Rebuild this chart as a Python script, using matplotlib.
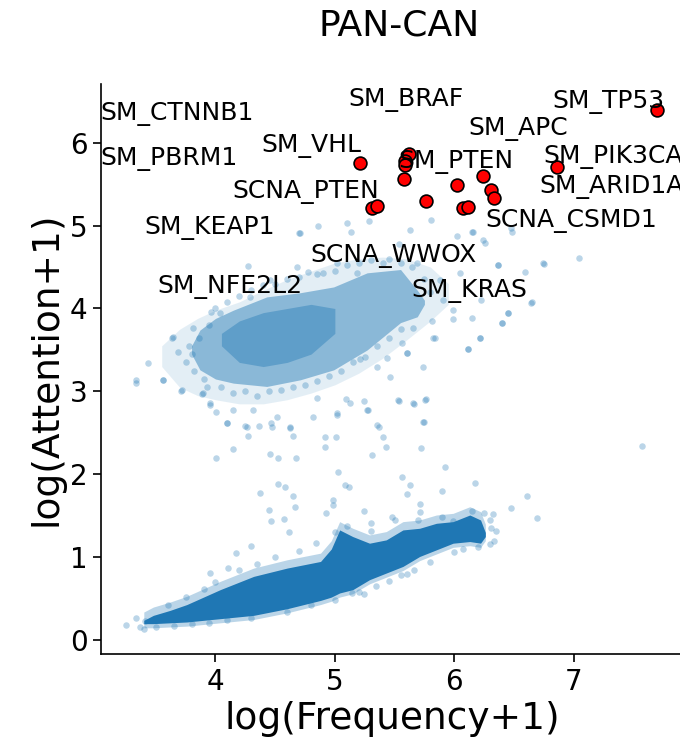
import matplotlib
matplotlib.use('Agg')
import matplotlib.pyplot as plt
import numpy as np

# dense lower band of genes (envelope of the solid core)
band_x = [3.40, 3.48, 3.62, 3.76, 3.90, 4.04, 4.18, 4.32, 4.46, 4.60, 4.74, 4.88,
          4.97, 5.04, 5.15, 5.29, 5.43, 5.57, 5.71, 5.85, 5.99, 6.13, 6.22, 6.26]
band_lo = [0.20, 0.20, 0.21, 0.22, 0.24, 0.26, 0.28, 0.30, 0.34, 0.38, 0.43, 0.48,
           0.52, 0.57, 0.61, 0.73, 0.81, 0.89, 1.01, 1.09, 1.17, 1.19, 1.17, 1.25]
band_hi = [0.24, 0.30, 0.36, 0.43, 0.52, 0.61, 0.69, 0.77, 0.82, 0.87, 0.91, 0.95,
           1.10, 1.33, 1.25, 1.17, 1.21, 1.33, 1.35, 1.41, 1.43, 1.51, 1.45, 1.30]

# upper cluster: outer spread, dense part, darkest core
cloud_x = [3.55, 3.70, 3.85, 4.00, 4.20, 4.40, 4.60, 4.80, 5.00, 5.20, 5.40, 5.60, 5.80, 5.95]
cloud_lo = [3.30, 3.05, 2.95, 2.90, 2.85, 2.85, 2.90, 2.98, 3.08, 3.22, 3.40, 3.62, 3.85, 4.05]
cloud_hi = [3.55, 3.75, 3.88, 3.98, 4.08, 4.22, 4.35, 4.45, 4.55, 4.60, 4.62, 4.60, 4.50, 4.30]

dense_x = [3.80, 3.87, 4.00, 4.15, 4.43, 4.71, 4.99, 5.27, 5.55, 5.69, 5.75]
dense_lo = [3.45, 3.26, 3.15, 3.10, 3.06, 3.14, 3.26, 3.50, 3.83, 3.90, 4.05]
dense_hi = [3.55, 3.74, 3.88, 3.98, 4.14, 4.19, 4.26, 4.43, 4.47, 4.22, 4.10]

core_x = [4.05, 4.20, 4.40, 4.60, 4.80, 5.00]
core_lo = [3.55, 3.35, 3.30, 3.35, 3.45, 3.70]
core_hi = [3.70, 3.85, 3.95, 4.00, 4.05, 4.00]

# scattered genes outside the dense regions
gene_x = [3.333, 3.333, 3.431, 3.557, 3.636, 3.711, 3.887, 3.951, 4.008, 4.093,
          4.247, 4.276, 4.367, 4.461, 4.477, 4.626, 4.647, 4.008, 4.143, 4.455,
          4.523, 4.678, 4.918, 4.918, 5.013, 5.019, 4.849, 5.091, 5.243, 5.271,
          5.366, 5.407, 5.429, 5.312, 5.023, 5.539, 5.659, 5.760, 5.747, 5.722,
          5.558, 5.926, 7.571, 6.116, 6.216, 5.838, 6.400, 6.450, 6.643, 6.226,
          5.992, 5.734, 5.438, 5.606, 5.211, 5.350, 5.565, 5.810,
          4.524, 4.581, 4.370, 4.653, 5.085, 5.120, 5.627, 5.602, 5.899, 6.172,
          6.613, 6.478, 6.695, 6.324, 4.452, 4.663, 4.467, 4.572, 4.616, 4.982,
          4.987, 4.928, 5.243, 5.476, 5.712, 5.709, 5.306, 4.846, 4.297, 4.172,
          3.951, 4.109, 3.251, 3.365, 3.333, 3.406, 5.243, 5.142, 5.552, 5.343,
          5.665, 6.069, 6.305, 5.987,
          3.558, 3.642, 3.688, 3.717, 3.814, 3.898, 3.954, 3.960, 4.038, 4.094,
          4.149, 4.275, 4.289, 4.261, 4.317, 4.456, 4.513, 4.624, 4.708, 4.680,
          4.777, 4.819, 4.903, 5.015, 5.015, 5.126, 5.183, 5.280, 5.350, 5.405,
          5.461, 5.531, 5.601, 5.656, 5.685, 5.740, 5.754, 5.656, 5.824, 5.880,
          5.908, 5.992, 6.048, 6.117, 6.146, 6.215, 6.243, 6.369, 6.397, 6.453,
          6.592, 6.648, 6.745, 6.146, 6.481,
          4.855, 5.101, 5.284, 4.698, 5.801, 6.157, 6.257, 6.472, 7.045, 6.752,
          6.368, 6.021, 5.627, 5.539, 5.139,
          4.20, 4.35, 4.50, 4.70, 5.00, 5.10, 5.30, 5.50, 5.70, 5.90, 6.15, 6.25,
          6.30, 6.35, 6.33, 3.60, 3.75, 3.90, 4.00,
          3.40, 3.50, 3.65, 3.80, 3.95, 4.10, 4.30, 4.60, 4.80, 5.00, 5.20, 5.45,
          5.60, 5.80, 6.00, 6.20, 6.30,
          3.75, 3.78, 3.82, 3.86, 3.90, 3.93, 3.95, 3.80,
          4.05, 4.15, 4.25, 4.35, 4.45, 4.55, 4.65, 4.75, 4.85, 4.95, 5.05, 5.15,
          5.25, 5.35, 5.45, 5.55,
          4.00, 4.10, 4.20, 4.30, 4.40, 4.50, 4.60, 4.70, 4.85, 5.00, 5.10, 5.20,
          5.30, 5.45, 5.55, 5.65, 5.75, 5.80]
gene_y = [3.139, 3.106, 3.340, 3.139, 3.649, 3.006, 2.970, 2.841, 2.753, 2.616,
          2.584, 2.463, 2.584, 2.616, 2.576, 2.563, 2.463, 2.198, 2.303, 2.246,
          2.194, 2.194, 2.455, 2.327, 2.447, 2.720, 2.918, 2.910, 2.889, 2.777,
          2.576, 2.455, 2.327, 2.238, 2.029, 2.889, 2.849, 2.906, 2.632, 2.315,
          1.965, 2.093, 2.339, 3.509, 3.642, 3.649, 3.830, 3.951, 4.071, 4.104,
          3.871, 3.299, 3.408, 3.461, 3.388, 3.299, 3.589, 3.850,
          1.880, 1.852, 1.772, 1.739, 1.868, 1.852, 1.868, 1.763, 1.804, 1.896,
          1.739, 1.591, 1.478, 1.522, 1.571, 1.603, 1.438, 1.466, 1.309, 1.691,
          1.627, 1.538, 1.558, 1.490, 1.639, 1.550, 1.418, 1.176, 1.136, 1.048,
          0.807, 0.867, 0.183, 0.155, 0.271, 0.228, 0.557, 0.573, 0.786, 0.657,
          0.847, 1.096, 1.350, 1.438,
          3.139, 3.654, 3.480, 3.018, 3.762, 2.978, 2.858, 3.963, 3.943, 2.616,
          2.777, 4.514, 4.143, 2.576, 2.777, 4.345, 2.696, 2.576, 4.908, 4.506,
          4.445, 2.696, 4.426, 2.737, 4.546, 2.858, 4.426, 2.777, 2.596, 4.546,
          3.178, 2.897, 3.461, 2.858, 4.546, 2.636, 2.897, 3.762, 3.642, 4.345,
          4.104, 3.983, 4.426, 3.509, 3.883, 3.642, 4.827, 4.526, 3.830, 3.951,
          4.445, 4.083, 4.546, 4.928, 4.928,
          5.000, 5.036, 5.060, 4.908, 5.069, 4.928, 4.795, 4.972, 4.614, 4.538,
          4.526, 4.876, 4.948, 4.776, 4.928,
          0.85, 0.92, 1.00, 1.08, 1.30, 1.38, 1.32, 1.45, 1.45, 1.48, 1.56, 1.54,
          1.45, 1.32, 1.20, 0.42, 0.52, 0.62, 0.70,
          0.14, 0.16, 0.17, 0.19, 0.21, 0.24, 0.27, 0.34, 0.42, 0.49, 0.58, 0.72,
          0.80, 0.94, 1.06, 1.12, 1.16,
          3.35, 3.55, 3.25, 3.65, 3.15, 3.05, 3.80, 3.45,
          3.05, 2.98, 3.00, 2.95, 3.00, 3.02, 3.05, 3.08, 3.12, 3.18, 3.25, 3.35,
          3.42, 3.55, 3.65, 3.75,
          4.00, 4.08, 4.15, 4.22, 4.28, 4.30, 4.36, 4.38, 4.42, 4.45, 4.52, 4.55,
          4.58, 4.60, 4.55, 4.50, 4.35, 4.20]

# top genes (red)
top_x = [5.210, 5.623, 5.587, 5.587, 5.581, 5.763, 6.020, 6.243, 6.305, 6.335,
         5.308, 5.350, 6.070, 6.117, 7.698, 6.860]
top_y = [5.760, 5.865, 5.784, 5.732, 5.563, 5.298, 5.491, 5.600, 5.431, 5.338,
         5.210, 5.238, 5.217, 5.222, 6.396, 5.708]

label_names = ['SM_CTNNB1', 'SM_PBRM1', 'SM_VHL', 'SM_BRAF', 'SM_TP53', 'SM_APC',
               'SM_PTEN', 'SM_PIK3CA', 'SM_ARID1A', 'SCNA_PTEN', 'SCNA_CSMD1',
               'SM_KEAP1', 'SCNA_WWOX', 'SM_NFE2L2', 'SM_KRAS']
label_x = [3.037, 3.037, 4.383, 5.116, 6.825, 6.116, 5.533, 6.745, 6.714, 4.140,
           6.257, 3.406, 4.792, 3.516, 5.643]
label_y = [6.275, 5.732, 5.881, 6.444, 6.416, 6.094, 5.692, 5.753, 5.391, 5.331,
           4.981, 4.900, 4.566, 4.185, 4.144]

blue = '#1f77b4'

fig = plt.figure(figsize=(6.8, 7.45), dpi=100)
ax = fig.add_axes([0.1479, 0.1217, 0.8591, 0.7659])

# dense regions
ax.fill_between(cloud_x, cloud_lo, cloud_hi, color=blue, alpha=0.12, lw=0)
ax.fill_between(dense_x, dense_lo, dense_hi, color=blue, alpha=0.45, lw=0)
ax.fill_between(core_x, core_lo, core_hi, color=blue, alpha=0.4, lw=0)
fringe_lo = np.array(band_lo) - 0.05
fringe_hi = np.array(band_hi) + 0.1
ax.fill_between(band_x, fringe_lo, fringe_hi, color=blue, alpha=0.3, lw=0)
ax.fill_between(band_x, band_lo, band_hi, color=blue, alpha=1.0, lw=0)

ax.scatter(gene_x, gene_y, s=22, color=blue, alpha=0.3, linewidths=0)
ax.scatter(top_x, top_y, s=85, color='red', edgecolors='black', linewidths=1.2, zorder=3)

for name, lx, ly in zip(label_names, label_x, label_y):
    ax.text(lx, ly, name, fontsize=18, ha='left', va='baseline')

ax.set_xlim(3.038, 7.93)
ax.set_ylim(-0.17, 6.71)
ax.set_xticks([4, 5, 6, 7])
ax.set_yticks([0, 1, 2, 3, 4, 5, 6])
ax.tick_params(labelsize=20, length=6, width=1.2)
for side in ['top', 'right']:
    ax.spines[side].set_visible(False)
for side in ['left', 'bottom']:
    ax.spines[side].set_linewidth(1.2)

ax.set_xlabel('log(Frequency+1)', fontsize=27, labelpad=4)
ax.set_ylabel('log(Attention+1)', fontsize=27, labelpad=4)
fig.text(399 / 680, 1 - 26 / 745, 'PAN-CAN', fontsize=26, ha='center', va='center')

fig.savefig('out.png', dpi=100)
